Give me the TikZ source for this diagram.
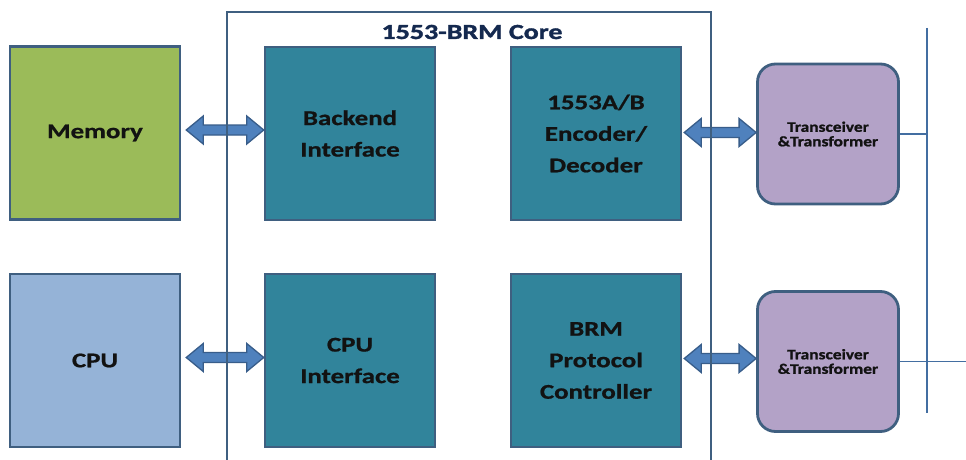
\documentclass[tikz,border=0pt]{standalone}
\usepackage{fontspec}
\newfontfamily\lblfont{Carlito}[FakeStretch=1.28,FakeBold=0.8]
\newfontfamily\smallfont{Carlito}[FakeStretch=1.2,FakeBold=1.3]
\newfontfamily\titlefont{Carlito}[FakeStretch=1.3,FakeBold=1.6]
\usetikzlibrary{calc}
\definecolor{memg}{HTML}{9BBB59}
\definecolor{cpub}{HTML}{95B3D7}
\definecolor{teal}{HTML}{31849B}
\definecolor{lav}{HTML}{B3A2C7}
\definecolor{bord}{HTML}{3F5F80}
\definecolor{arrowf}{HTML}{4F81BD}
\definecolor{arrowd}{HTML}{385D8A}
\definecolor{navy}{HTML}{14294F}
\definecolor{txt}{HTML}{121212}
\begin{document}
\begin{tikzpicture}[x=1pt,y=-1pt,
  box/.style={draw=bord, line width=2.5pt, minimum width=170, minimum height=173, inner sep=0pt,
    align=center, text=txt, font=\lblfont\bfseries\fontsize{21}{31.5}\selectfont},
  trx/.style={draw=bord, line width=2.8pt, fill=lav, rounded corners=18pt, minimum width=141, minimum height=140,
    inner sep=0pt, align=center, text=txt, font=\smallfont\bfseries\fontsize{14.5}{14.5}\selectfont},
  core/.style={draw=bord, line width=2.2pt},
  bus/.style={draw=arrowf!85!black, line width=1.8pt},
  barrow/.style={draw=arrowd, fill=arrowf, line width=1.3pt,
    to path={let \p1=(\tikztostart), \p2=(\tikztotarget) in
      (\x1,\y1) -- (\x1+17pt,\y1+14pt) -- (\x1+17pt,\y1+5pt) -- (\x2-17pt,\y1+5pt) -- (\x2-17pt,\y1+14pt)
      -- (\x2,\y1) -- (\x2-17pt,\y1-14pt) -- (\x2-17pt,\y1-5pt) -- (\x1+17pt,\y1-5pt) -- (\x1+17pt,\y1-14pt) -- cycle}}
]
\useasboundingbox (0,0) rectangle (966,460);
\fill[white] (0,0) rectangle (966,460);

% left boxes
\node[box, fill=memg] (mem) at (95,133) {Memory};
\node[box, fill=cpub] (cpu) at (95,360.5) {CPU};
% core boxes
\node[box, fill=teal] (bi) at (350,133.5) {Backend\\Interface};
\node[box, fill=teal] (ci) at (350,360.5) {CPU\\Interface};
\node[box, fill=teal] (enc) at (596,133.5) {1553A/B\\Encoder/\\Decoder};
\node[box, fill=teal] (brm) at (596,360.5) {BRM\\Protocol\\Controller};
% transceivers
\node[trx] (tr1) at (828,134) {Transceiver\\\&Transformer};
\node[trx] (tr2) at (828,361.5) {Transceiver\\\&Transformer};

% arrows
\draw[barrow] ([xshift=5pt,yshift=3pt]mem.east) to ([yshift=3pt]bi.west);
\draw[barrow] ([xshift=5pt,yshift=3pt]cpu.east) to ([yshift=3pt]ci.west);
\draw[barrow] ([xshift=2pt,yshift=1pt]enc.east) to ([yshift=1pt]tr1.west);
\draw[barrow] ([xshift=2pt,yshift=2pt]brm.east) to ([yshift=2pt]tr2.west);

% core box
\coordinate (cbl) at (227,462);
\coordinate (ctl) at (227,12);
\coordinate (ctr) at (711,12);
\coordinate (cbr) at (711,462);
\draw[core] (cbl) -- (ctl) -- (ctr) -- (cbr);
\node[text=navy, font=\titlefont\bfseries\fontsize{21.5}{24}\selectfont] (title) at (472,32) {1553-BRM Core};

% bus
\coordinate (bustop) at (927,28);
\coordinate (busbot) at (927,413);
\coordinate (busend) at (966,361.5);
\draw[bus] (bustop) -- (busbot);
\draw[bus] (tr1.east) -- (tr1.east -| bustop);
\draw[bus] (tr2.east) -- (busend);
\end{tikzpicture}
\end{document}
